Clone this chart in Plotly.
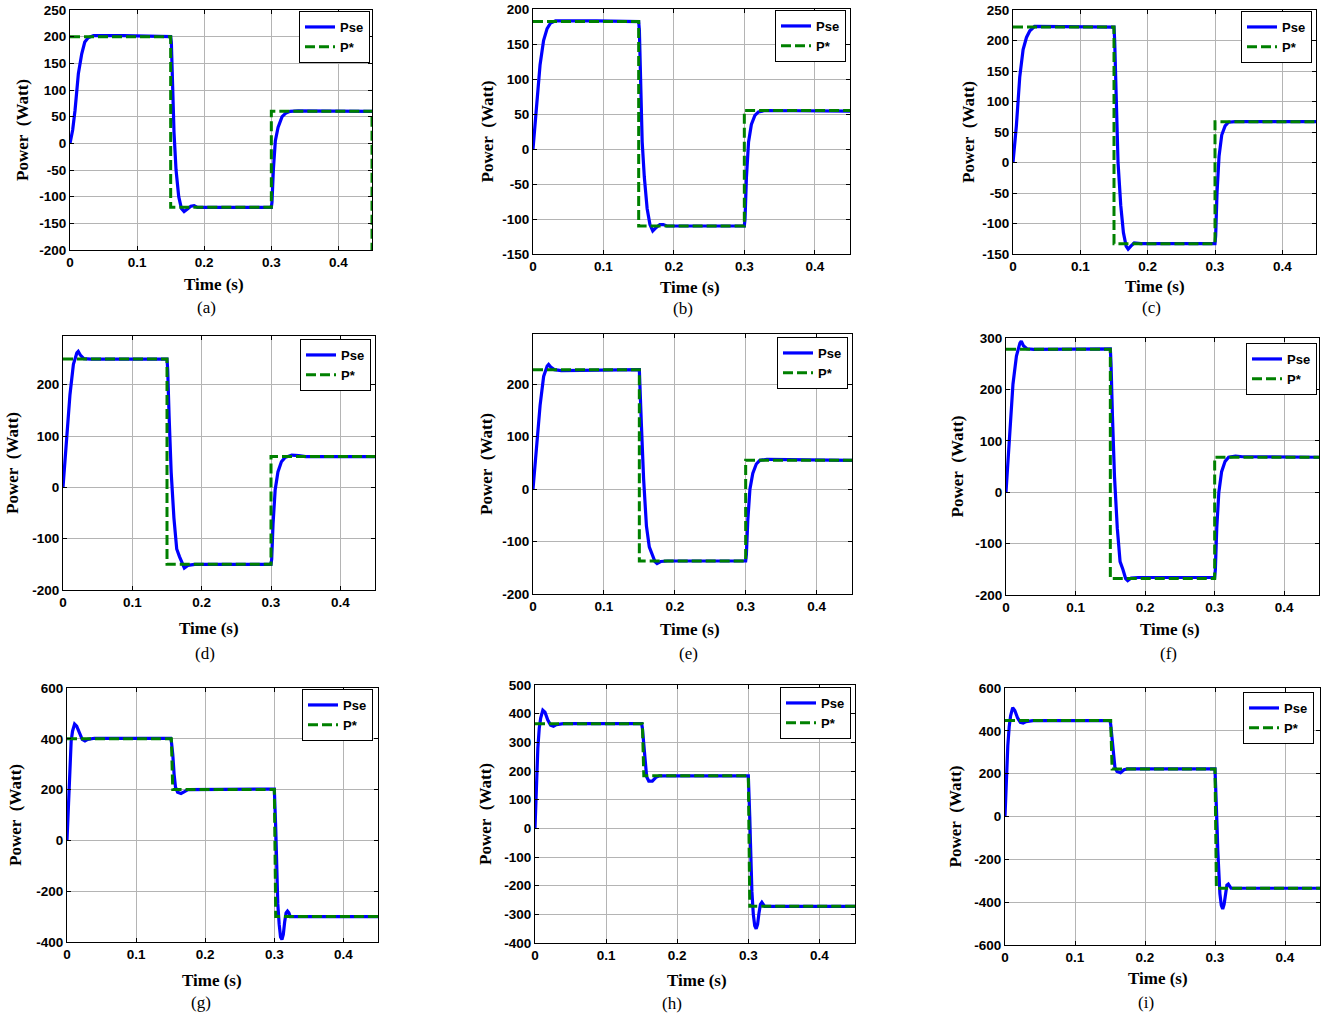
import plotly.graph_objects as go

W, H = 1327, 1017

# ---------------- data ----------------
panels = ["a", "b", "c", "d", "e", "f", "g", "h", "i"]

# reference power P* (step) per panel
pref_t = {
    "a": [0, 0.15, 0.15, 0.30, 0.30, 0.45, 0.45],
    "b": [0, 0.15, 0.15, 0.30, 0.30, 0.45],
    "c": [0, 0.15, 0.15, 0.30, 0.30, 0.45],
    "d": [0, 0.15, 0.15, 0.30, 0.30, 0.45],
    "e": [0, 0.15, 0.15, 0.30, 0.30, 0.45],
    "f": [0, 0.15, 0.15, 0.30, 0.30, 0.45],
    "g": [0, 0.151, 0.153, 0.30, 0.302, 0.45],
    "h": [0, 0.151, 0.153, 0.30, 0.302, 0.45],
    "i": [0, 0.151, 0.153, 0.30, 0.302, 0.45],
}
pref_v = {
    "a": [200, 200, -120, -120, 60, 60, -200],
    "b": [182, 182, -110, -110, 55, 55],
    "c": [222, 222, -133, -133, 67, 67],
    "d": [250, 250, -150, -150, 60, 60],
    "e": [228, 228, -137, -137, 55, 55],
    "f": [278, 278, -168, -168, 68, 68],
    "g": [400, 400, 200, 200, -300, -300],
    "h": [365, 365, 183, 183, -272, -272],
    "i": [448, 448, 222, 222, -335, -335],
}

pse_t = {
    "a": [0, 0.004, 0.0075, 0.0125, 0.0175, 0.022, 0.027, 0.035, 0.08, 0.15,
          0.151, 0.153, 0.155, 0.158, 0.162, 0.166, 0.17, 0.175, 0.18, 0.185, 0.19, 0.30,
          0.301, 0.303, 0.306, 0.31, 0.316, 0.322, 0.328, 0.34, 0.45],
    "b": [0, 0.005, 0.01, 0.015, 0.02, 0.025, 0.032, 0.09, 0.15,
          0.151, 0.153, 0.155, 0.158, 0.162, 0.166, 0.17, 0.175, 0.18, 0.185, 0.19, 0.30,
          0.301, 0.303, 0.306, 0.31, 0.315, 0.32, 0.33, 0.45],
    "c": [0, 0.005, 0.01, 0.015, 0.02, 0.025, 0.032, 0.08, 0.15,
          0.151, 0.153, 0.156, 0.16, 0.164, 0.168, 0.171, 0.175, 0.18, 0.19, 0.30,
          0.301, 0.303, 0.306, 0.31, 0.315, 0.32, 0.33, 0.45],
    "d": [0, 0.005, 0.01, 0.015, 0.02, 0.022, 0.025, 0.03, 0.04, 0.15,
          0.151, 0.153, 0.156, 0.16, 0.164, 0.168, 0.172, 0.175, 0.18, 0.19, 0.30,
          0.301, 0.303, 0.306, 0.31, 0.315, 0.32, 0.33, 0.34, 0.35, 0.45],
    "e": [0, 0.005, 0.01, 0.015, 0.02, 0.022, 0.025, 0.03, 0.04, 0.15,
          0.151, 0.153, 0.156, 0.16, 0.164, 0.168, 0.172, 0.175, 0.18, 0.19, 0.30,
          0.301, 0.303, 0.306, 0.31, 0.315, 0.32, 0.33, 0.45],
    "f": [0, 0.005, 0.01, 0.015, 0.02, 0.022, 0.025, 0.03, 0.04, 0.15,
          0.151, 0.153, 0.156, 0.16, 0.164, 0.168, 0.172, 0.175, 0.18, 0.19, 0.30,
          0.301, 0.303, 0.306, 0.31, 0.315, 0.32, 0.33, 0.34, 0.45],
    "g": [0, 0.002, 0.004, 0.006, 0.008, 0.011, 0.014, 0.018, 0.022, 0.026, 0.03, 0.04, 0.15,
          0.151, 0.153, 0.155, 0.157, 0.16, 0.165, 0.17, 0.175, 0.30,
          0.301, 0.302, 0.303, 0.304, 0.305, 0.307, 0.309, 0.311, 0.313, 0.315, 0.317,
          0.319, 0.321, 0.323, 0.45],
    "h": [0, 0.002, 0.004, 0.006, 0.008, 0.011, 0.014, 0.018, 0.022, 0.026, 0.03, 0.04, 0.15,
          0.151, 0.153, 0.155, 0.157, 0.16, 0.165, 0.17, 0.175, 0.30,
          0.301, 0.302, 0.303, 0.304, 0.305, 0.307, 0.309, 0.311, 0.313, 0.315, 0.317,
          0.319, 0.321, 0.323, 0.45],
    "i": [0, 0.002, 0.004, 0.006, 0.008, 0.011, 0.014, 0.018, 0.022, 0.026, 0.03, 0.04, 0.15,
          0.151, 0.153, 0.155, 0.157, 0.16, 0.165, 0.17, 0.175, 0.30,
          0.301, 0.302, 0.303, 0.304, 0.305, 0.307, 0.309, 0.311, 0.313, 0.315, 0.317,
          0.319, 0.321, 0.323, 0.45],
}
pse_v = {
    "a": [0, 25, 62, 131, 168, 190, 198, 202, 202, 200,
          190, 100, 20, -50, -100, -122, -128, -123, -118, -117, -120, -120,
          -110, -50, 5, 30, 50, 57, 60, 61, 60],
    "b": [0, 60, 120, 155, 172, 180, 183, 183, 182,
          170, 80, 10, -40, -85, -108, -117, -112, -108, -108, -110, -110,
          -100, -40, 10, 35, 48, 53, 55, 54],
    "c": [0, 60, 140, 185, 205, 216, 223, 223, 222,
          200, 100, 0, -70, -115, -137, -142, -137, -132, -133, -133,
          -120, -50, 10, 45, 60, 66, 67, 67],
    "d": [0, 90, 180, 240, 262, 265, 258, 251, 250, 250,
          230, 140, 30, -60, -120, -135, -150, -157, -152, -150, -150,
          -140, -70, -5, 30, 50, 58, 63, 62, 60, 60],
    "e": [0, 80, 160, 215, 235, 238, 233, 228, 226, 228,
          200, 120, 20, -70, -110, -125, -138, -142, -138, -137, -137,
          -125, -60, 0, 30, 48, 55, 57, 55],
    "f": [0, 110, 210, 265, 290, 294, 285, 279, 278, 279,
          250, 150, 30, -70, -135, -150, -168, -172, -167, -166, -166,
          -150, -70, 0, 40, 60, 68, 70, 69, 68],
    "g": [0, 150, 300, 390, 430, 458, 450, 420, 398, 392, 398, 402, 402,
          390, 340, 260, 210, 190, 185, 192, 200, 202,
          150, 50, -50, -150, -250, -330, -380, -390, -370, -320, -285,
          -278, -285, -300, -300],
    "h": [0, 150, 280, 350, 385, 412, 405, 378, 360, 356, 362, 365, 365,
          350, 300, 230, 180, 165, 165, 178, 183, 183,
          130, 40, -50, -140, -220, -300, -340, -350, -335, -295, -265,
          -258, -265, -272, -272],
    "i": [0, 180, 330, 420, 470, 508, 495, 460, 440, 436, 443, 448, 448,
          430, 370, 290, 230, 210, 205, 218, 222, 222,
          150, 50, -50, -160, -260, -360, -415, -432, -410, -360, -320,
          -315, -325, -335, -335],
}

y_ranges = {
    "a": [-200, 250], "b": [-150, 200], "c": [-150, 250],
    "d": [-200, 295], "e": [-200, 296], "f": [-200, 300],
    "g": [-400, 600], "h": [-400, 500], "i": [-600, 600],
}
y_ticks = {
    "a": [-200, -150, -100, -50, 0, 50, 100, 150, 200, 250],
    "b": [-150, -100, -50, 0, 50, 100, 150, 200],
    "c": [-150, -100, -50, 0, 50, 100, 150, 200, 250],
    "d": [-200, -100, 0, 100, 200],
    "e": [-200, -100, 0, 100, 200],
    "f": [-200, -100, 0, 100, 200, 300],
    "g": [-400, -200, 0, 200, 400, 600],
    "h": [-400, -300, -200, -100, 0, 100, 200, 300, 400, 500],
    "i": [-600, -400, -200, 0, 200, 400, 600],
}
x_ticks = [0, 0.1, 0.2, 0.3, 0.4]
x_ticktext = ["0", "0.1", "0.2", "0.3", "0.4"]
x_range = [0, 0.45]

# ---------------- layout geometry (pixels) ----------------
boxes = {  # left, right, top, bottom
    "a": (70, 372, 10, 250), "b": (533, 850, 9, 254), "c": (1013, 1316, 10, 254),
    "d": (63, 375, 336, 590), "e": (533, 852, 334, 594), "f": (1006, 1319, 338, 595),
    "g": (67, 378, 688, 942), "h": (535, 855, 685, 943), "i": (1005, 1320, 688, 945),
}
legend_pos = {  # right, top
    "a": (370, 11), "b": (846, 10), "c": (1312, 11),
    "d": (371, 339), "e": (848, 337), "f": (1317, 343),
    "g": (373, 689), "h": (851, 687), "i": (1314, 692),
}
time_lbl = {"a": (214, 284), "b": (690, 287), "c": (1155, 286),
            "d": (209, 628), "e": (690, 629), "f": (1170, 629),
            "g": (212, 980), "h": (697, 980), "i": (1158, 978)}
cap_lbl = {"a": (206, 307), "b": (683, 308), "c": (1151, 307),
           "d": (205, 653), "e": (688, 653), "f": (1168, 653),
           "g": (201, 1002), "h": (672, 1003), "i": (1146, 1002)}
pow_x = {"a": 22, "b": 487, "c": 968, "d": 13, "e": 487, "f": 957,
         "g": 15, "h": 485, "i": 955}

BLUE = "#0000FF"
GREEN = "#008000"
tick_font = dict(family="Liberation Sans, Arial", size=13.5, color="black", weight="bold")
serif_bold = dict(family="Liberation Serif, Times New Roman", size=17, color="black", weight="bold")
serif = dict(family="Liberation Serif, Times New Roman", size=17, color="black")

fig = go.Figure()
annotations = []
layout = dict(width=W, height=H, margin=dict(l=0, r=0, t=0, b=0, autoexpand=False),
              paper_bgcolor="white", plot_bgcolor="white", showlegend=True)

for k, p in enumerate(panels):
    n = "" if k == 0 else str(k + 1)
    xa, ya = "x" + n, "y" + n
    leg = "legend" + n
    fig.add_trace(go.Scatter(x=pse_t[p], y=pse_v[p], mode="lines", name="Pse",
                             line=dict(color=BLUE, width=3.2), xaxis=xa, yaxis=ya,
                             legend=leg))
    fig.add_trace(go.Scatter(x=pref_t[p], y=pref_v[p], mode="lines", name="P*",
                             line=dict(color=GREEN, width=3, dash="10px,4px"),
                             xaxis=xa, yaxis=ya, legend=leg))
    l, r, t, b = boxes[p]
    common = dict(showline=True, linecolor="black", linewidth=1, mirror="ticks",
                  ticks="inside", ticklen=4, tickcolor="black", tickwidth=1,
                  showgrid=True, gridcolor="#b4b4b4", gridwidth=1, zeroline=False,
                  tickfont=tick_font)
    layout["xaxis" + n] = dict(domain=[l / W, r / W], anchor=ya, range=x_range,
                               tickvals=x_ticks, ticktext=x_ticktext, **common)
    layout["yaxis" + n] = dict(domain=[1 - b / H, 1 - t / H], anchor=xa, range=y_ranges[p],
                               tickvals=y_ticks[p], ticktext=[str(v) for v in y_ticks[p]],
                               **common)
    rx, ty = legend_pos[p]
    layout[leg] = dict(x=rx / W, y=1 - ty / H, xanchor="right", yanchor="top",
                       bgcolor="white", bordercolor="black", borderwidth=1,
                       font=dict(family="Liberation Sans, Arial", size=13,
                                 color="black", weight="bold"),
                       tracegroupgap=0, itemwidth=30)
    tx, tyy = time_lbl[p]
    annotations.append(dict(text="Time (s)", x=tx / W, y=1 - tyy / H, xref="paper",
                            yref="paper", showarrow=False, xanchor="center",
                            yanchor="middle", font=serif_bold))
    cx, cy = cap_lbl[p]
    annotations.append(dict(text="(" + p + ")", x=cx / W, y=1 - cy / H, xref="paper",
                            yref="paper", showarrow=False, xanchor="center",
                            yanchor="middle", font=serif))
    annotations.append(dict(text="Power\u00a0 (Watt)", x=pow_x[p] / W,
                            y=1 - ((t + b) / 2) / H, xref="paper", yref="paper",
                            showarrow=False, textangle=-90, xanchor="center",
                            yanchor="middle", font=serif_bold))

layout["annotations"] = annotations
fig.update_layout(**layout)

fix_page = (
    "document.documentElement.style.margin='0';"
    "document.documentElement.style.overflow='hidden';"
    "document.body.style.margin='0';"
    "document.body.style.overflow='hidden';"
    "var d=document.getElementById('{plot_id}');"
    "d.style.position='absolute';d.style.left='0px';d.style.top='0px';"
)
fig.write_html("out.html", post_script=fix_page,
               config={"displayModeBar": False, "staticPlot": True})
